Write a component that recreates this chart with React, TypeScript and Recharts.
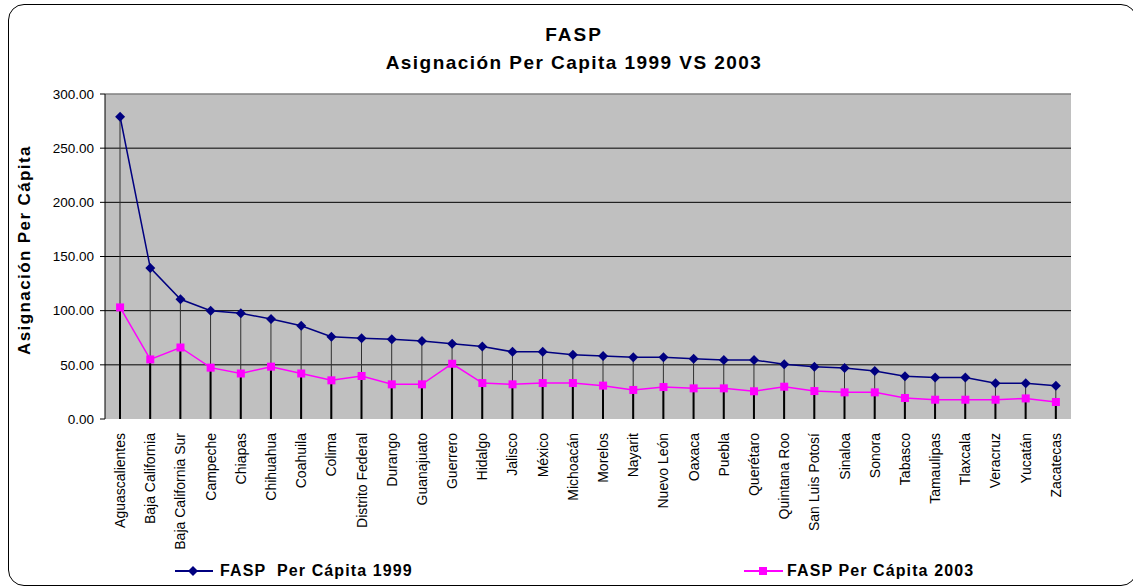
import React from 'react';
import {
  ComposedChart, Line, Bar, XAxis, YAxis, CartesianGrid, ReferenceLine
} from 'recharts';

const states = [
  'Aguascalientes', 'Baja California', 'Baja California Sur', 'Campeche', 'Chiapas',
  'Chihuahua', 'Coahuila', 'Colima', 'Distrito Federal', 'Durango', 'Guanajuato',
  'Guerrero', 'Hidalgo', 'Jalisco', 'México', 'Michoacán', 'Morelos', 'Nayarit',
  'Nuevo León', 'Oaxaca', 'Puebla', 'Querétaro', 'Quintana Roo', 'San Luis Potosí',
  'Sinaloa', 'Sonora', 'Tabasco', 'Tamaulipas', 'Tlaxcala', 'Veracruz', 'Yucatán', 'Zacatecas',
];

const perCapita1999 = [
  279, 139.5, 110.5, 100, 97.6, 92.3, 86, 76, 74.5, 73.6, 72,
  69.5, 67, 62, 62, 59.4, 58.2, 57, 57, 55.7, 54.5, 54.5,
  50.5, 48.3, 47, 44.3, 39.4, 38.2, 38.2, 33, 33, 30.8,
];

const perCapita2003 = [
  103, 55, 66, 47.4, 42, 48.3, 42, 35.7, 39.7, 32, 32,
  51, 33.2, 32, 33.2, 33.2, 30.8, 26.8, 29.5, 28.3, 28.3, 25.6,
  29.8, 25.8, 24.6, 24.6, 19.4, 17.8, 17.8, 17.8, 19, 15.7,
];

const yTicks = [0, 50, 100, 150, 200, 250, 300];
const edgeTicks = states.map((_, i) => i).concat(states.length);

const data = states.map((name, i) => ({
  name,
  v1999: perCapita1999[i],
  v2003: perCapita2003[i],
}));

const FONT = '"Liberation Sans", Arial, sans-serif';
const NAVY = '#000080';
const MAGENTA = '#FF00FF';

const Diamond = (props: any) => {
  const { cx, cy } = props;
  if (cx == null || cy == null) return null;
  return <path d={`M${cx},${cy - 5}L${cx + 5},${cy}L${cx},${cy + 5}L${cx - 5},${cy}Z`} fill={NAVY} />;
};

const Square = (props: any) => {
  const { cx, cy } = props;
  if (cx == null || cy == null) return null;
  return <rect x={cx - 4} y={cy - 4} width={8} height={8} fill={MAGENTA} />;
};

// vertical drop line from the point to the axis
const dropLine = (color: string, w: number) => (props: any) => {
  const { x, y, width, height } = props;
  const cx = x + width / 2;
  return <line x1={cx} x2={cx} y1={y} y2={y + height} stroke={color} strokeWidth={w} />;
};

const StateTick = (props: any) => {
  const { x, y, payload } = props;
  return (
    <g transform={`translate(${x},${y})`}>
      <text x={0} y={0} dy="0.35em" textAnchor="end" transform="rotate(-90)"
        fontSize={14} fontFamily={FONT} fill="#000">
        {payload.value}
      </text>
    </g>
  );
};

const App = () => {
  return (
    <div style={{
      position: 'absolute', left: 8, top: 4, width: 1127, height: 580,
      border: '1px solid #000', borderRadius: 16, background: '#fff', fontFamily: FONT,
    }}>
      <div style={{ position: 'absolute', left: 3, right: 0, top: 20, textAlign: 'center', fontSize: 19, lineHeight: '19px', fontWeight: 'bold', letterSpacing: 2 }}>
        FASP
      </div>
      <div style={{ position: 'absolute', left: 3, right: 0, top: 48, textAlign: 'center', fontSize: 19, lineHeight: '19px', fontWeight: 'bold', letterSpacing: 1.45 }}>
        Asignación Per Capita 1999 VS 2003
      </div>

      <ComposedChart width={1125} height={578} data={data}
        margin={{ top: 89, right: 63, left: 0, bottom: 0 }} barGap={-2}>
        <CartesianGrid vertical={false} horizontalValues={[50, 100, 150, 200, 250]}
          stroke="#000" strokeOpacity={1} fill="#C0C0C0" fillOpacity={1} />
        <XAxis xAxisId="edges" type="number" domain={[0, states.length]} ticks={edgeTicks}
          tickFormatter={() => ''} height={0} tickSize={5} stroke="#000" axisLine={{ stroke: '#000' }}
          tickLine={{ stroke: '#000' }} allowDataOverflow interval={0} />
        <XAxis dataKey="name" interval={0} height={164} tickLine={false} axisLine={false}
          tick={<StateTick />} tickMargin={8} />
        <YAxis domain={[0, 300]} ticks={yTicks} width={96} tickSize={5} tickMargin={6}
          tickFormatter={(v: number) => v.toFixed(2)}
          tick={{ fontSize: 13.5, fontFamily: FONT, fill: '#000' }}
          axisLine={{ stroke: '#000' }} tickLine={{ stroke: '#000' }}
          label={{
            content: () => (
              <text x={21} y={245} transform="rotate(-90,21,245)" textAnchor="middle"
                fontSize={17} fontWeight="bold" fontFamily={FONT} letterSpacing={1.4} fill="#000">
                Asignación Per Cápita
              </text>
            ),
          }} />
        <ReferenceLine y={300} stroke="#808080" strokeWidth={1.5} />
        <ReferenceLine xAxisId="edges" x={states.length} stroke="#808080" strokeWidth={1.5} />
        <Bar dataKey="v1999" barSize={2} shape={dropLine('#303030', 1)} isAnimationActive={false} />
        <Bar dataKey="v2003" barSize={2} shape={dropLine('#000', 2)} isAnimationActive={false} />
        <Line dataKey="v1999" stroke={NAVY} strokeWidth={1.5} dot={<Diamond />} activeDot={false}
          isAnimationActive={false} />
        <Line dataKey="v2003" stroke={MAGENTA} strokeWidth={1.5} dot={<Square />} activeDot={false}
          isAnimationActive={false} />
      </ComposedChart>

      <div style={{ position: 'absolute', left: 166, top: 558, display: 'flex', alignItems: 'center' }}>
        <svg width={39} height={12}>
          <line x1={0} x2={38} y1={6} y2={6} stroke={NAVY} strokeWidth={2} />
          <path d="M18,1L23,6L18,11L13,6Z" fill={NAVY} />
        </svg>
        <span style={{ marginLeft: 6, fontSize: 16, lineHeight: '16px', fontWeight: 'bold', letterSpacing: 1.1, whiteSpace: 'pre' }}>
          FASP  Per Cápita 1999
        </span>
      </div>
      <div style={{ position: 'absolute', left: 735, top: 558, display: 'flex', alignItems: 'center' }}>
        <svg width={40} height={12}>
          <line x1={0} x2={39} y1={6} y2={6} stroke={MAGENTA} strokeWidth={2} />
          <rect x={15} y={2} width={8} height={8} fill={MAGENTA} />
        </svg>
        <span style={{ marginLeft: 3, fontSize: 16, lineHeight: '16px', fontWeight: 'bold', letterSpacing: 1.1, whiteSpace: 'pre' }}>
          FASP Per Cápita 2003
        </span>
      </div>
    </div>
  );
};

export default App;
